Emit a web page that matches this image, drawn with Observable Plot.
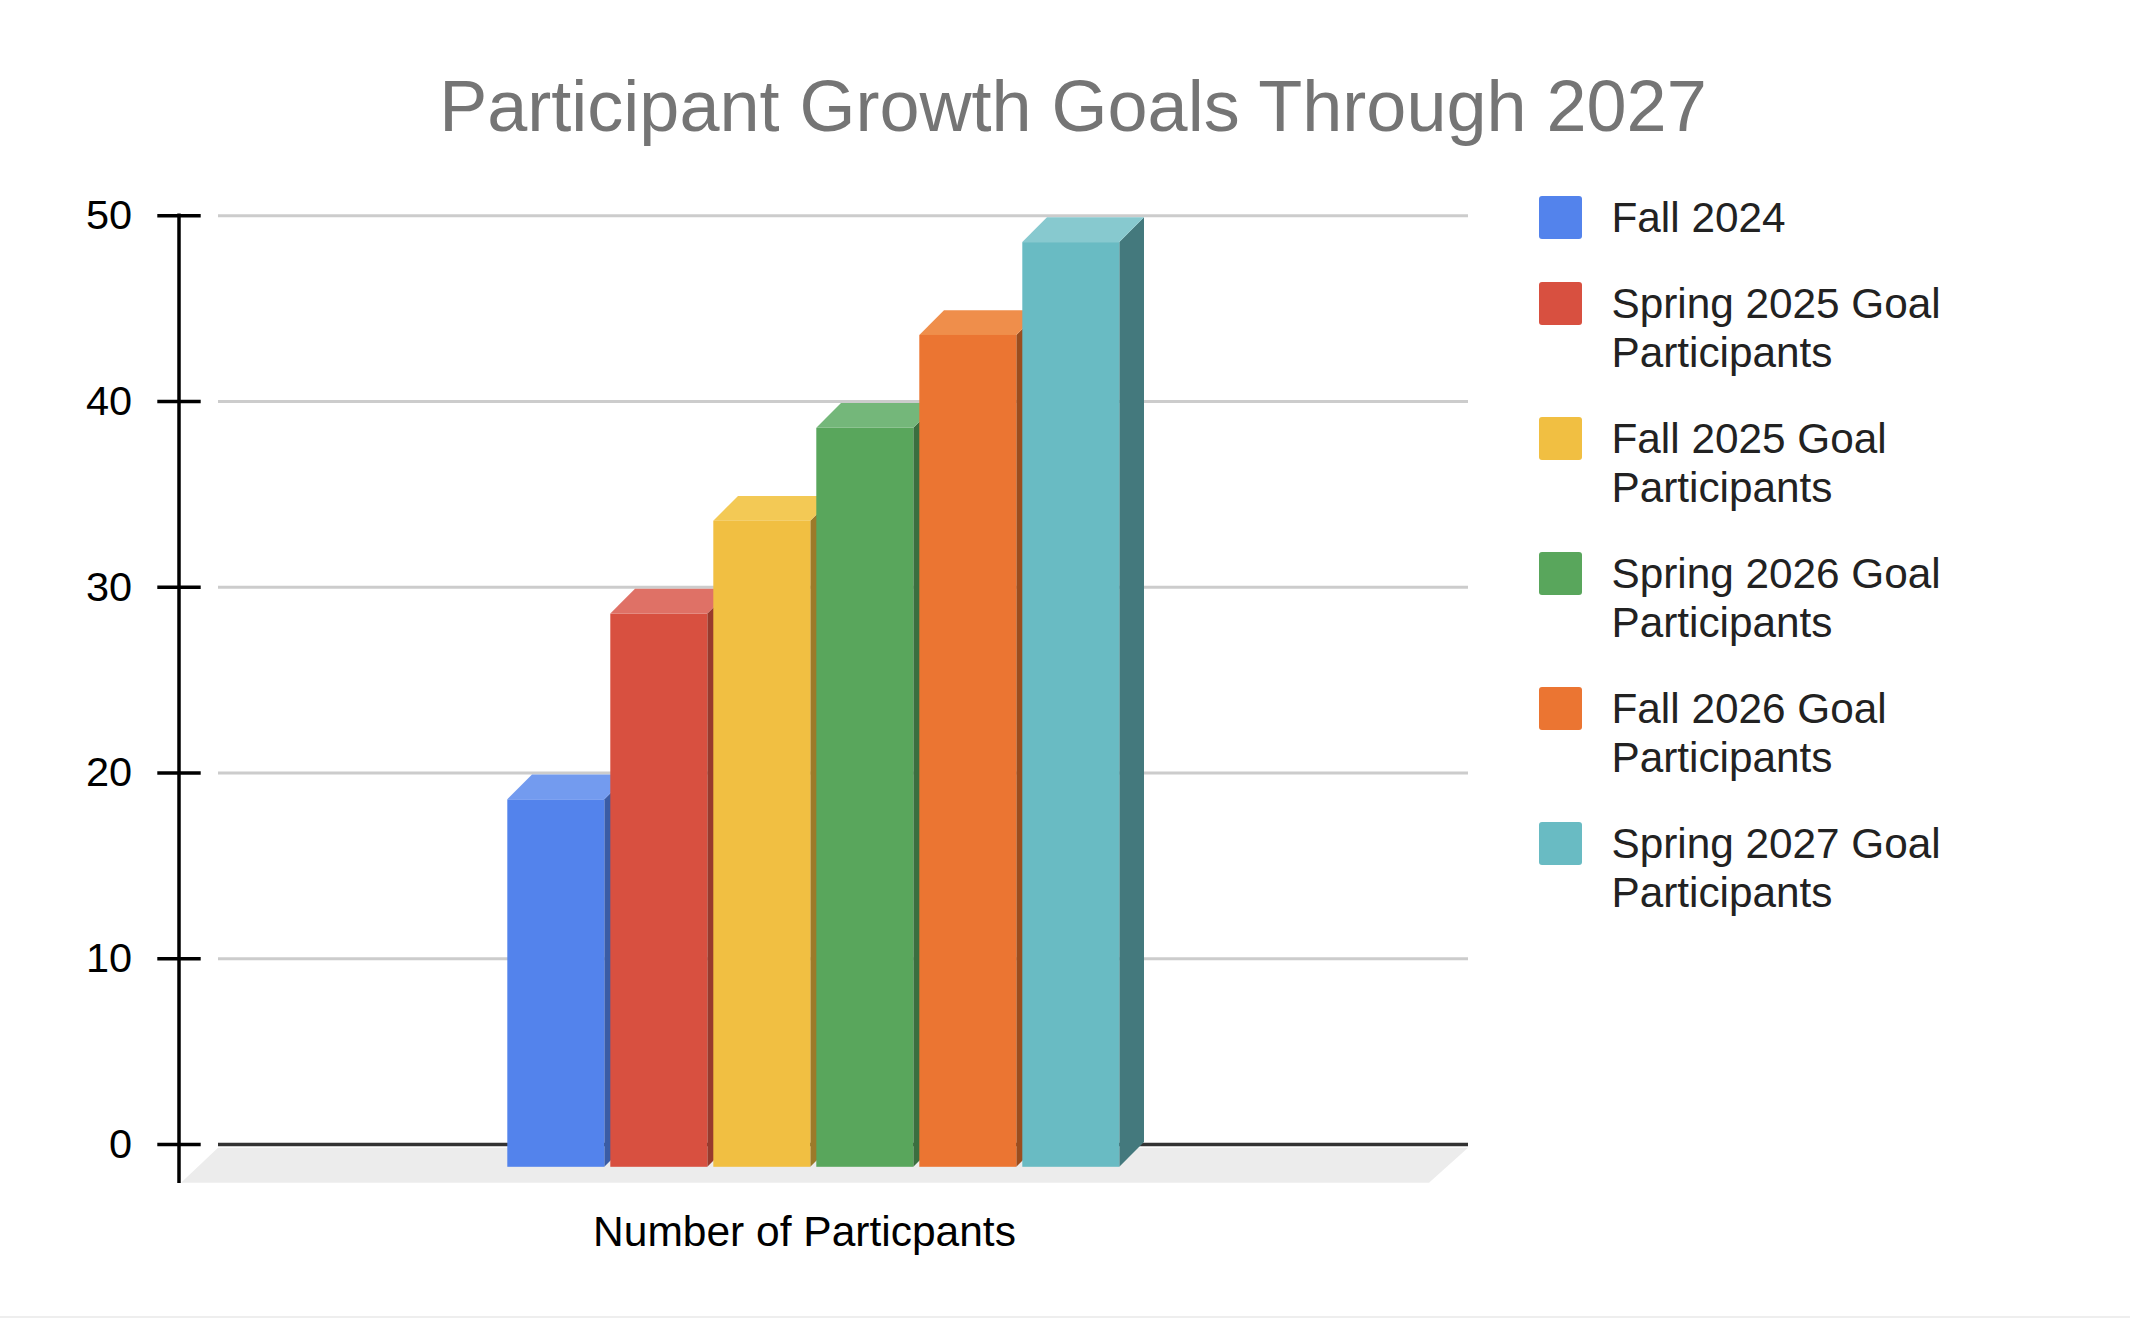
<!DOCTYPE html>
<html>
<head>
<meta charset="utf-8">
<script src="https://cdn.jsdelivr.net/npm/d3@7"></script>
<script src="https://cdn.jsdelivr.net/npm/@observablehq/plot@0.6"></script>
<style>
html, body { margin: 0; padding: 0; background: #fff; }
#page { position: relative; width: 2130px; height: 1318px; overflow: hidden; background: #fff;
  font-family: "Liberation Sans", Arial, sans-serif; }
#title { position: absolute; left: 0; top: 70px; width: 2146px; text-align: center; font-size: 72px;
  line-height: 72px; color: #757575; white-space: nowrap; }
#chart { position: absolute; left: 0; top: 160px; }
#legend { position: absolute; left: 1539px; top: 192.5px; display: flex; flex-direction: column; gap: 37px; }
.item { display: flex; align-items: flex-start; }
.sw { width: 43px; height: 43px; border-radius: 3px; margin-top: 3.2px; flex: none; }
.lab { margin-left: 29.5px; width: 360px; font-size: 42.3px; line-height: 49px; color: #222; }
#bottomline { position: absolute; left: 0; right: 0; bottom: 0; height: 2px; background: #eeeeee; }
</style>
</head>
<body>
<div id="page">
  <div id="title"></div>
  <div id="chart"></div>
  <div id="legend"></div>
  <div id="bottomline"></div>
</div>
<script>
// ---- data ----
const title = "Participant Growth Goals Through 2027";
const groupLabel = "Number of Particpants";
const categories = [
  "Fall 2024",
  "Spring 2025 Goal Participants",
  "Fall 2025 Goal Participants",
  "Spring 2026 Goal Participants",
  "Fall 2026 Goal Participants",
  "Spring 2027 Goal Participants"
];
const values = [20, 30, 35, 40, 45, 50];
const yTicks = [0, 10, 20, 30, 40, 50];
const colors = ["#5383EC", "#D85040", "#F1BF42", "#59A65C", "#EB7532", "#69BBC3"];
const topColors = ["#739BEF", "#DF7166", "#F3C955", "#74B77A", "#EF8E4B", "#87C9CF"];
const sideColors = ["#3A5CA5", "#983A2D", "#9C7A29", "#3B6F3F", "#9B4D1E", "#44797D"];

const data = categories.map((name, i) => ({name, value: values[i], top: topColors[i], side: sideColors[i]}));

// 3D depth offset (pixels)
const DX = -24.7, DY = 24.8;

document.getElementById("title").textContent = title;

function floorMark(index, scales, vals, dim) {
  const y0 = scales.y(0);
  const l = dim.marginLeft, r = dim.width - dim.marginRight;
  return d3.create("svg:polygon")
    .attr("points", [[l, y0 + 3.7], [r, y0 + 3.7], [r - 39, y0 + 38.7], [l - 37, y0 + 38.7]].join(" "))
    .attr("fill", "#ececec").node();
}

function axisLineMark(index, scales, vals, dim) {
  const x = dim.marginLeft - 39;
  return d3.create("svg:line")
    .attr("x1", x).attr("x2", x)
    .attr("y1", scales.y(d3.max(yTicks)) - 1.7).attr("y2", scales.y(0) + 39)
    .attr("stroke", "black").attr("stroke-width", 3.5).node();
}

function facesMark(kind) {
  return (index, scales, vals, dim) => {
    const g = d3.create("svg:g");
    const bw = scales.x.bandwidth();
    const y0 = scales.y(0) - 2;
    for (const d of data) {
      const x0 = scales.x(d.name), x1 = x0 + bw, yv = scales.y(d.value) + 2;
      const pts = kind === "side"
        ? [[x1, yv], [x1, y0], [x1 + DX, y0 + DY], [x1 + DX, yv + DY]]
        : [[x0, yv], [x1, yv], [x1 + DX, yv + DY], [x0 + DX, yv + DY]];
      g.append("polygon").attr("points", pts.join(" ")).attr("fill", kind === "side" ? d.side : d.top);
    }
    return g.node();
  };
}

const chart = Plot.plot({
  width: 1520,
  height: 1110,
  marginTop: 55.3,
  marginBottom: 126,
  marginLeft: 218,
  marginRight: 52,
  style: {fontFamily: "'Liberation Sans', Arial, sans-serif", color: "black", background: "transparent", overflow: "visible"},
  x: {domain: categories, axis: null, paddingInner: 0.054, paddingOuter: 3.06, align: 0.492},
  y: {domain: [0, 50], ticks: yTicks},
  color: {domain: categories, range: colors},
  marks: [
    floorMark,
    Plot.ruleY(yTicks.filter(t => t > 0), {stroke: "#cccccc", strokeWidth: 3}),
    Plot.ruleY([0], {stroke: "#333333", strokeWidth: 3.5}),
    Plot.axisY({ticks: yTicks, tickSize: 43.4, dx: -17.3, tickPadding: 25.6, fontSize: 41.5,
      stroke: "black", strokeWidth: 3.5, fill: "black", label: null, tickFormat: d => String(d)}),
    axisLineMark,
    facesMark("side"),
    facesMark("top"),
    Plot.barY(data, {x: "name", y: "value", fill: "name", dx: DX, dy: DY, insetTop: 2, insetBottom: 2}),
    Plot.text([groupLabel], {frameAnchor: "bottom", text: d => d, dx: -39, dy: 87.4, fontSize: 42.5,
      fill: "black", lineAnchor: "middle"})
  ]
});
document.getElementById("chart").appendChild(chart);

// legend
const legend = d3.select("#legend");
categories.forEach((name, i) => {
  const item = legend.append("div").attr("class", "item");
  item.append("div").attr("class", "sw").style("background", colors[i]);
  item.append("div").attr("class", "lab").text(name);
});
</script>
</body>
</html>
